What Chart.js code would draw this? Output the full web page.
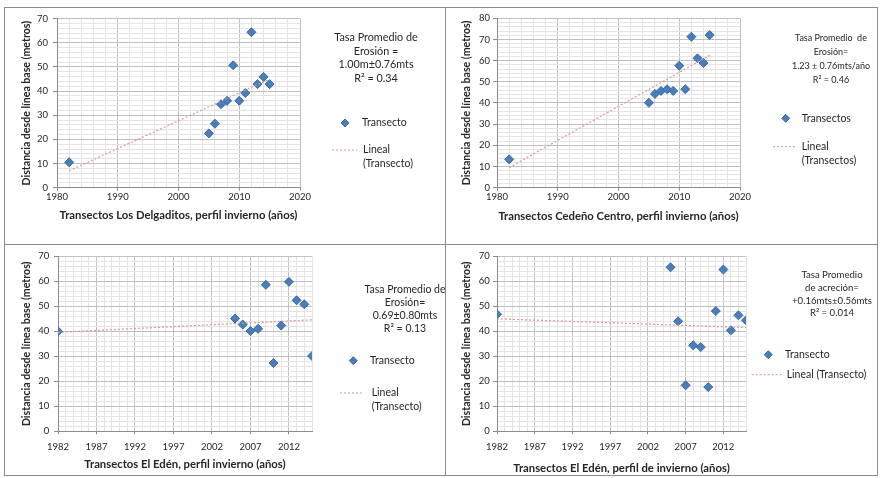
<!DOCTYPE html>
<html>
<head>
<meta charset="utf-8">
<script src="https://cdn.jsdelivr.net/npm/chart.js@4.4.1/dist/chart.umd.min.js"></script>
<style>
  body { margin: 0; background: #fff; }
  #wrap { position: relative; width: 880px; height: 478px; overflow: hidden; }
  .line { position: absolute; background: #8c8c8c; }
  canvas { position: absolute; }
</style>
</head>
<body>
<div id="wrap">
  <div class="line" style="left:4px;top:7px;width:874px;height:1px"></div>
  <div class="line" style="left:4px;top:475px;width:874px;height:1px"></div>
  <div class="line" style="left:4px;top:7px;width:1px;height:469px"></div>
  <div class="line" style="left:877px;top:7px;width:1px;height:469px"></div>
  <div class="line" style="left:445px;top:7px;width:1px;height:469px"></div>
  <div class="line" style="left:4px;top:244px;width:874px;height:1px"></div>
  <canvas id="c1" width="440" height="236" style="left:5px;top:8px"></canvas>
  <canvas id="c2" width="431" height="236" style="left:446px;top:8px"></canvas>
  <canvas id="c3" width="440" height="230" style="left:5px;top:245px"></canvas>
  <canvas id="c4" width="431" height="230" style="left:446px;top:245px"></canvas>
</div>
<script>
// Los Delgaditos
const years1 = [1982, 2005, 2006, 2007, 2008, 2009, 2010, 2011, 2012, 2013, 2014, 2015];
const dist1 = [10.5, 22.5, 26.5, 34.6, 36, 50.7, 36, 39.2, 64.4, 42.9, 45.9, 42.9];
const trendYears1 = [1982, 2015];
const trend1 = [7, 45];
const xTicks1 = [1980, 1990, 2000, 2010, 2020];
const yTicks1 = [0, 10, 20, 30, 40, 50, 60, 70];
const note1 = ["Tasa Promedio de", "Erosión =", "1.00m±0.76mts", "R² = 0.34"];
const legend1 = ["Transecto", "Lineal", "(Transecto)"];
const xTitle1 = "Transectos Los Delgaditos, perfil invierno (años)";

// Cedeño Centro
const years2 = [1982, 2005, 2006, 2007, 2008, 2009, 2010, 2011, 2012, 2013, 2014, 2015];
const dist2 = [13.4, 40.1, 44.3, 45.7, 46.5, 45.7, 57.6, 46.5, 71.3, 61.1, 58.9, 72.1];
const trendYears2 = [1982, 2015];
const trend2 = [9.5, 62.5];
const xTicks2 = [1980, 1990, 2000, 2010, 2020];
const yTicks2 = [0, 10, 20, 30, 40, 50, 60, 70, 80];
const note2 = ["Tasa Promedio  de", "Erosión=", "1.23 ± 0.76mts/año", "R² = 0.46"];
const legend2 = ["Transectos", "Lineal", "(Transectos)"];
const xTitle2 = "Transectos Cedeño Centro, perfil invierno (años)";

// El Edén
const years3 = [1982, 2005, 2006, 2007, 2008, 2009, 2010, 2011, 2012, 2013, 2014, 2015];
const dist3 = [40, 45.1, 42.7, 40.1, 41, 58.6, 27.3, 42.3, 59.8, 52.4, 50.8, 30.1];
const trendYears3 = [1982, 2015];
const trend3 = [39.6, 44.6];
const xTicks3 = [1982, 1987, 1992, 1997, 2002, 2007, 2012];
const yTicks3 = [0, 10, 20, 30, 40, 50, 60, 70];
const note3 = ["Tasa Promedio de", "Erosión=", "0.69±0.80mts", "R² = 0.13"];
const legend3 = ["Transecto", "Lineal", "(Transecto)"];
const xTitle3 = "Transectos El Edén, perfil invierno (años)";

// El Edén, perfil de invierno
const years4 = [1982, 2005, 2006, 2007, 2008, 2009, 2010, 2011, 2012, 2013, 2014, 2015];
const dist4 = [46.8, 65.6, 44, 18.4, 34.4, 33.7, 17.7, 48.1, 64.7, 40.4, 46.4, 44.4];
const trendYears4 = [1982, 2015];
const trend4 = [45, 41.5];
const xTicks4 = [1982, 1987, 1992, 1997, 2002, 2007, 2012];
const yTicks4 = [0, 10, 20, 30, 40, 50, 60, 70];
const note4 = ["Tasa Promedio", "de acreción=", "+0.16mts±0.56mts", "R² = 0.014"];
const legend4 = ["Transecto", "Lineal (Transecto)"];
const xTitle4 = "Transectos El Edén, perfil de invierno (años)";

const yTitle = "Distancia desde línea base (metros)";

const FONT = "Lato, 'Open Sans', sans-serif";
const BLUE = "#4a7ebb";
const BLUE_EDGE = "#3a69a3";
const TREND = "#d59896";
const TEXT = "#262626";
const MAJOR = "#c0c0c0";
const MINOR = "#e4e4e4";

const toPoints = (xs, ys) => xs.map((x, i) => ({ x, y: ys[i] }));

// grid positions (major + minor lines), labels only on the major ones
const gridTicks = (min, max, step) => {
  const out = [];
  for (let v = min; v <= max + 1e-9; v += step) out.push({ value: Math.round(v * 1000) / 1000 });
  return out;
};

const diamond = (ctx, x, y, r) => {
  ctx.beginPath();
  ctx.moveTo(x, y - r);
  ctx.lineTo(x + r, y);
  ctx.lineTo(x, y + r);
  ctx.lineTo(x - r, y);
  ctx.closePath();
  ctx.fill();
  ctx.stroke();
};

// texto de la tasa + leyenda a la derecha del grafico
const sidePlugin = {
  id: "side",
  afterDraw(chart, args, o) {
    const ctx = chart.ctx;
    ctx.save();
    ctx.fillStyle = TEXT;
    ctx.font = `${o.size}px ${FONT}`;
    ctx.textBaseline = "middle";
    ctx.textAlign = "center";
    o.note.forEach((t, i) => ctx.fillText(t, o.noteX, o.noteY + i * o.gap));

    ctx.fillStyle = BLUE;
    ctx.strokeStyle = BLUE_EDGE;
    ctx.lineWidth = 1;
    diamond(ctx, o.markX, o.markY, 4);

    ctx.strokeStyle = TREND;
    ctx.setLineDash([2, 2]);
    ctx.beginPath();
    ctx.moveTo(o.lineX0, o.lineY);
    ctx.lineTo(o.lineX1, o.lineY);
    ctx.stroke();
    ctx.setLineDash([]);

    ctx.fillStyle = TEXT;
    ctx.textAlign = "left";
    ctx.font = `10.5px ${FONT}`;
    ctx.fillText(o.legend[0], o.textX, o.markY);
    o.legend.slice(1).forEach((t, i) => ctx.fillText(t, o.textX2, o.lineY + i * 13.5));
    ctx.restore();
  },
};

const makeChart = (id, p) => {
  const canvas = document.getElementById(id);
  const W = canvas.width;
  const H = canvas.height;
  const tickFont = { family: FONT, size: 9.5 };
  const xTitleFont = { family: FONT, size: 11.3, weight: "bold" };
  const yTitleFont = { family: FONT, size: 10.6, weight: "bold" };
  const xlh = 11.3 * 1.2;
  const ylh = 10.6 * 1.2;
  const xMin = p.xTicks[0];
  const yMax = p.yTicks[p.yTicks.length - 1];

  const datasets = [
    {
      label: p.legend[0],
      data: toPoints(p.years, p.dist),
      pointStyle: "rectRot",
      pointRadius: 4.5,
      backgroundColor: BLUE,
      borderColor: BLUE_EDGE,
      borderWidth: 1,
      showLine: false,
      order: 2,
    },
    {
      label: p.legend.slice(1).join(" "),
      data: toPoints(p.trendYears, p.trend),
      showLine: true,
      borderColor: TREND,
      borderWidth: 1.2,
      borderDash: [2, 2],
      pointRadius: 0,
      order: 1,
    },
  ];

  return new Chart(canvas, {
    type: "scatter",
    data: { datasets },
    plugins: [sidePlugin],
    options: {
      responsive: false,
      animation: false,
      events: [],
      layout: { padding: { left: 0, top: p.area.top, right: W - p.area.right, bottom: 0 } },
      plugins: {
        legend: { display: false },
        tooltip: { enabled: false },
        side: p.side,
      },
      scales: {
        x: {
          type: "linear",
          min: xMin,
          max: p.xMax,
          afterBuildTicks: (s) => { s.ticks = gridTicks(xMin, p.xMax, p.xMinor); },
          afterFit: (s) => { s.height = H - p.area.bottom; },
          ticks: {
            autoSkip: false,
            maxRotation: 0,
            padding: p.xPad,
            color: TEXT,
            font: tickFont,
            callback: (v) => (p.xTicks.includes(v) ? String(v) : ""),
          },
          grid: {
            color: (c) => (p.xTicks.includes(c.tick.value) ? MAJOR : MINOR),
            tickColor: (c) => (p.xTicks.includes(c.tick.value) ? "#8c8c8c" : "rgba(0,0,0,0)"),
            tickLength: 3,
          },
          border: { color: "#8c8c8c" },
          title: {
            display: true,
            text: p.xTitle,
            color: TEXT,
            font: xTitleFont,
            padding: { top: 0, bottom: H - p.xTitleY - xlh / 2 },
          },
        },
        y: {
          type: "linear",
          min: 0,
          max: yMax,
          afterBuildTicks: (s) => { s.ticks = gridTicks(0, yMax, 2); },
          afterFit: (s) => { s.width = p.area.left; },
          ticks: {
            autoSkip: false,
            padding: p.yPad,
            color: TEXT,
            font: tickFont,
            callback: (v) => (p.yTicks.includes(v) ? String(v) : ""),
          },
          grid: {
            color: (c) => (p.yTicks.includes(c.tick.value) ? MAJOR : MINOR),
            tickColor: (c) => (p.yTicks.includes(c.tick.value) ? "#8c8c8c" : "rgba(0,0,0,0)"),
            tickLength: 4,
          },
          border: { color: "#8c8c8c" },
          title: {
            display: true,
            text: yTitle,
            color: TEXT,
            font: yTitleFont,
            padding: { top: p.yTitleX - ylh / 2, bottom: 0 },
          },
        },
      },
    },
  });
};

makeChart("c1", {
  years: years1, dist: dist1, trendYears: trendYears1, trend: trend1,
  xTicks: xTicks1, yTicks: yTicks1, legend: legend1, xTitle: xTitle1,
  xMax: 2020, xMinor: 2,
  area: { left: 52, right: 295, top: 10.3, bottom: 179.7 },
  xPad: 1, yPad: 5, xTitleY: 207.5, yTitleX: 22,
  side: { note: note1, legend: legend1, size: 10.8, noteX: 371, noteY: 30, gap: 13.5,
          markX: 340, markY: 115, textX: 357, lineX0: 327, lineX1: 352, lineY: 142, textX2: 358 },
});

makeChart("c2", {
  years: years2, dist: dist2, trendYears: trendYears2, trend: trend2,
  xTicks: xTicks2, yTicks: yTicks2, legend: legend2, xTitle: xTitle2,
  xMax: 2020, xMinor: 2,
  area: { left: 51, right: 294, top: 10.3, bottom: 179.7 },
  xPad: 1, yPad: 3, xTitleY: 208.5, yTitleX: 20.7,
  side: { note: note2, legend: legend2, size: 9, noteX: 385, noteY: 30.3, gap: 13.9,
          markX: 339.7, markY: 110.3, textX: 355.7, lineX0: 327, lineX1: 351, lineY: 138.7, textX2: 355.7 },
});

makeChart("c3", {
  years: years3, dist: dist3, trendYears: trendYears3, trend: trend3,
  xTicks: xTicks3, yTicks: yTicks3, legend: legend3, xTitle: xTitle3,
  xMax: 2015, xMinor: 1,
  area: { left: 53, right: 307, top: 11.3, bottom: 186.3 },
  xPad: 7, yPad: 4.7, xTitleY: 219.7, yTitleX: 21.7,
  side: { note: note3, legend: legend3, size: 10.5, noteX: 400, noteY: 45, gap: 13,
          markX: 348.3, markY: 115.7, textX: 365, lineX0: 335, lineX1: 359, lineY: 148, textX2: 366.7 },
});

makeChart("c4", {
  years: years4, dist: dist4, trendYears: trendYears4, trend: trend4,
  xTicks: xTicks4, yTicks: yTicks4, legend: legend4, xTitle: xTitle4,
  xMax: 2015, xMinor: 1,
  area: { left: 51, right: 300, top: 11.3, bottom: 186.3 },
  xPad: 7, yPad: 3.3, xTitleY: 223, yTitleX: 20.7,
  side: { note: note4, legend: legend4, size: 9.6, noteX: 386, noteY: 29.7, gap: 12.9,
          markX: 322.3, markY: 109.7, textX: 339, lineX0: 305.7, lineX1: 337.3, lineY: 129.7, textX2: 340.7 },
});
</script>
</body>
</html>
